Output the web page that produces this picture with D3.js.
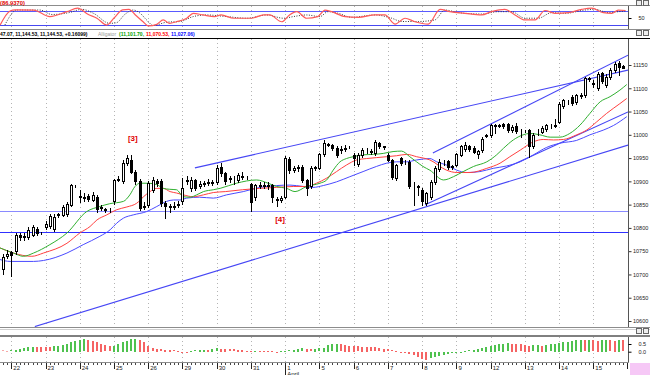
<!DOCTYPE html>
<html>
<head>
<meta charset="utf-8">
<script src="https://cdn.jsdelivr.net/npm/d3@7"></script>
<style>
  body { margin: 0; background: #fff; }
  svg { display: block; font-family: "Liberation Sans", Arial, sans-serif; }
</style>
</head>
<body>
<svg id="chart" width="650" height="375"></svg>
<script>
// hourly candles, 8 per day
const dayLabels = ["22","23","24","25","26","29","30","31","1","5","6","7","8","9","12","13","14","15"];
const firstDayIndex = 2;
const barsPerDay = 8;

const opens = [10712,10740,10748,10750,10785,10780,10780,10785,10797,10790,
10801,10805,10797,10827,10828,10830,10850,10891,10868,10866,
10869,10860,10866,10845,10840,10839,10857,10903,10900,10939,
10946,10921,10900,10845,10850,10882,10900,10900,10853,10847,
10845,10849,10857,10900,10885,10903,10890,10894,10898,10897,
10899,10931,10917,10905,10906,10903,10910,10909,10894,10867,
10890,10891,10893,10892,10862,10860,10867,10949,10925,10929,
10931,10903,10889,10928,10929,10958,10980,10978,10972,10968,
10970,10974,10956,10937,10956,10965,10964,10960,10982,10975,
10957,10946,10907,10950,10941,10942,10892,10890,10882,10853,
10867,10899,10926,10940,10944,10930,10935,10957,10970,10975,
10972,10958,10967,10998,10999,11020,11020,11023,11023,11010,
11018,11008,11008,11010,10975,11005,11007,11012,11020,11020,
11028,11062,11071,11082,11071,11083,11085,11121,11110,11100,
11132,11107,11125,11139,11155,11147];

const highs = [10745,10752,10750,10790,10790,10790,10802,10807,10802,10792,
10815,10830,10830,10833,10850,10855,10895,10893,10882,10875,
10872,10878,10870,10850,10843,10842,10906,10912,10945,10957,
10957,10925,10905,10855,10900,10910,10905,10905,10858,10852,
10855,10858,10908,10912,10910,10906,10900,10900,10905,10902,
10935,10939,10920,10912,10912,10918,10920,10911,10896,10895,
10898,10898,10898,10895,10867,10868,10955,10953,10932,10935,
10935,10906,10932,10934,10962,10989,10983,10980,10975,10976,
10978,10977,10960,10960,10972,10972,10970,10989,10985,10977,
10960,10948,10938,10953,10945,10945,10899,10893,10885,10878,
10902,10932,10949,10945,10946,10936,10962,10978,10985,10979,
10975,10968,10995,11002,11024,11024,11024,11026,11025,11022,
11026,11012,11010,11012,11003,11012,11018,11024,11024,11035,
11070,11078,11075,11085,11088,11090,11124,11124,11118,11135,
11136,11130,11143,11156,11158,11149];

const lows = [10700,10735,10696,10745,10775,10775,10776,10782,10785,10786,
10797,10800,10793,10823,10825,10826,10848,10888,10855,10858,
10858,10857,10835,10838,10835,10835,10852,10900,10897,10935,
10918,10895,10838,10840,10845,10878,10890,10848,10822,10835,
10840,10845,10852,10895,10880,10882,10886,10890,10892,10893,
10895,10912,10895,10898,10895,10898,10905,10906,10836,10860,
10885,10886,10884,10856,10846,10855,10864,10918,10920,10922,
10898,10871,10885,10925,10926,10955,10975,10968,10953,10962,
10965,10971,10936,10934,10953,10960,10958,10957,10972,10970,
10943,10905,10903,10936,10938,10885,10849,10870,10850,10850,
10863,10895,10922,10935,10926,10926,10932,10954,10965,10966,
10960,10950,10963,10995,10996,11004,11016,11014,11006,11005,
11004,10996,11005,10953,10972,11000,11004,11008,11015,11016,
11025,11058,11067,11064,11066,11080,11082,11116,11103,11096,
11112,11103,11120,11135,11128,11143];

const closes = [10738,10745,10742,10785,10780,10782,10796,10803,10789,10789,
10808,10826,10824,10829,10845,10852,10892,10890,10866,10865,
10863,10870,10840,10843,10839,10838,10903,10906,10939,10950,
10921,10900,10843,10848,10896,10903,10897,10853,10848,10845,
10848,10852,10885,10902,10903,10885,10894,10896,10897,10898,
10928,10917,10901,10907,10905,10914,10911,10909,10856,10892,
10892,10893,10890,10867,10860,10864,10950,10924,10928,10931,
10903,10885,10928,10930,10958,10982,10978,10971,10957,10970,
10972,10974,10950,10956,10967,10966,10965,10985,10975,10974,
10946,10910,10935,10939,10942,10889,10893,10888,10857,10875,
10899,10928,10942,10939,10930,10932,10959,10975,10978,10970,
10964,10965,10992,11000,11021,11021,11021,11018,11010,11017,
11008,11009,11008,10975,10999,11007,11014,11021,11019,11022,
11067,11074,11071,11068,11085,11085,11121,11120,11112,11131,
11115,11125,11139,11153,11146,11144.5];

// Alligator lines, read at knots (bar index, price)
const lipsAt = [-0.64,2.5,4.8,7.2,11,15,19.6,22.7,25,28.2,29.7,30.9,32.1,34,36,37.5,39,40.6,42.2,43.8,
45.3,46.9,49.2,50.8,54.6,59.3,62,64,66.3,68.3,71,74.1,75.7,77.2,78.8,80.3,81.9,84.2,86.6,88.9,
91.2,93.2,95.1,96.7,98.2,99.8,103,105.3,107.6,110,113.1,115.4,117,119.3,121.6,123.2,125.5,127.9,130.2,132.5,
134.9,137.2,139.6,141.9,144.2,145.8];
const lipsVal = [10757,10746,10739,10746,10764,10789,10835,10846,10852,10857,10871,10889,10896,10896,10893,10885,10883,10882,10867,10866,
10871,10878,10882,10885,10896,10903,10896,10889,10885,10878,10889,10896,10903,10924,10942,10949,10953,10957,10958,10960,
10964,10965,10953,10942,10932,10924,10903,10910,10921,10932,10942,10957,10971,10989,11000,11003,11000,10995,10995,11003,
11021,11046,11071,11082,11096,11108];

const teethAt = [-0.64,2.5,6.8,9.5,15,18,20.4,22,24.3,26.6,29,31.3,32.9,34.4,36,37.5,39.1,40.6,42.2,44.5,
46.9,49.2,52,56,60,64,68,71,73.3,75.7,78,80.3,82.7,85,87.3,89.7,92,94.4,96.7,99.8,
103.7,106.1,109.2,113.1,116.2,118.5,120.9,124,126.3,128.7,131,134.1,136.4,138.8,141.1,144.2,145.8];
const teethVal = [10757,10746,10739,10746,10767,10789,10803,10817,10828,10839,10845,10853,10867,10878,10885,10885,10878,10875,10871,10867,
10871,10876,10878,10882,10885,10887,10889,10889,10896,10907,10921,10935,10946,10949,10951,10953,10955,10958,10953,10946,
10924,10919,10919,10928,10939,10953,10967,10985,10990,10989,10990,11000,11010,11028,11046,11067,11078];

const jawAt = [-0.64,1.7,7.2,9.5,15,18.8,22.7,25.1,26.6,28.2,30.5,33.6,36,38.3,39.9,41.4,43,46,49.2,52.3,
56.2,60.1,64,67.1,70.2,72.5,74.9,78,81.1,84.2,87.3,89.7,92,94.4,96.7,99.8,101.4,103.7,106.1,108.4,
111.5,114.6,117.7,120.9,124,127.1,130.2,134.1,137.2,140.3,142.7,145.8];
const jawVal = [10732,10728,10728,10730,10746,10764,10782,10796,10810,10821,10828,10835,10846,10857,10860,10860,10864,10866,10864,10871,
10878,10887,10891,10892,10889,10887,10891,10899,10910,10921,10932,10939,10942,10942,10946,10949,10942,10935,10924,10919,
10921,10928,10933,10942,10957,10973,10982,10988,11000,11010,11020,11039];

// stochastic in the top pane, read at knots
const kAt = [-0.6,1.7,2.9,7.2,11,15,17.5,20,22,24.3,26,28,29.5,31,32.8,34,36,37.5,39,40.6,
43,44.5,46.8,49.5,51,54,58,61,62.4,65.2,67,68.7,71,73.6,75.3,76.8,80,83.1,87,89.3,
91.7,94,96.3,99.4,102.2,104.5,108,111.9,114.2,117.3,119.7,122,124.4,126.7,129,132.2,135.3,137.6,140.3,142.3,
143.8,145.5];
const kVal = [20,80,85,84,56,77,92,65,49,20,50,85,87,63,34,16,23,42,27,34,
49,70,63,56,63,49,49,63,63,34,63,77,49,56,84,77,56,53,63,63,
24,49,34,24,87,77,70,63,77,87,63,42,42,82,70,73,87,92,73,70,
84,82];
const dAt = [0.5,3.3,8.7,11.5,15.5,18.5,21.2,25,26.6,28.5,30.5,32,33.6,35.2,38.3,41.4,44.5,47.6,52.3,57,
61.7,65.6,67.9,71,74.1,76,78.4,81.5,87,90.9,93.2,97.1,101,103.3,106.5,111.9,115.8,118.9,122,125.1,
128.3,131.4,136,138.4,141.5,143.8,145.5];
const dVal = [20,84,84,65,73,87,70,27,30,65,84,72,42,18,32,35,56,63,56,49,
63,49,56,63,56,77,70,53,63,49,35,35,42,84,73,67,77,77,49,49,
73,70,84,87,73,77,80];

// oscillator histogram, one bar per candle
const histVal = [0.08,0.07,0.09,0.13,0.17,0.22,0.28,0.32,0.31,0.30,
0.29,0.28,0.35,0.39,0.45,0.50,0.62,0.71,0.78,0.80,
0.77,0.71,0.61,0.50,0.41,0.35,0.39,0.50,0.63,0.71,
0.80,0.84,0.76,0.62,0.36,0.22,0.17,0.15,0.14,0.12,
0.08,0.04,0.01,0.00,0.04,0.09,0.11,0.13,0.12,0.17,
0.22,0.19,0.17,0.16,0.15,0.13,0.11,0.07,0.04,0.06,
0.055,0.05,0.03,0.02,0.01,0.02,0.03,0.09,0.13,0.17,
0.22,0.18,0.16,0.17,0.22,0.26,0.43,0.48,0.52,0.48,
0.43,0.39,0.37,0.35,0.31,0.30,0.29,0.28,0.22,0.17,
0.15,0.09,0.04,-0.01,-0.06,-0.11,-0.17,-0.32,-0.43,-0.50,
-0.39,-0.32,-0.26,-0.17,-0.13,-0.09,-0.04,0.01,0.04,0.09,
0.13,0.17,0.22,0.30,0.39,0.43,0.48,0.52,0.54,0.52,
0.50,0.48,0.43,0.39,0.41,0.43,0.40,0.43,0.48,0.52,
0.56,0.61,0.65,0.69,0.74,0.76,0.74,0.76,0.74,0.72,
0.75,0.76,0.74,0.72,0.75,0.73];

// drawn objects: trend lines [[bar, price], [bar, price]] and horizontal levels
const trendLines = [
    [[7.5, 10588], [146.1, 10978]],
    [[44.9, 10929], [146.1, 11139]],
    [[100.5, 10961], [146.1, 11171]],
    [[98.7, 10850], [146.1, 11049]]
];
const levels = [10836, 10792];
const waveLabels = [{ text: "[3]", at: 30.4, price: 10993 }, { text: "[4]", at: 64.8, price: 10820 }];
const priceTicks = [10600,10650,10700,10750,10800,10850,10900,10950,11000,11050,11100,11150];

const svg = d3.select("#chart");
const axisX = 628;

const x = d3.scaleLinear().domain([0, 145]).range([2.74, 623.3]);
const y = d3.scaleLinear().domain([10600, 11150]).range([321, 65]);
const yOsc = d3.scaleLinear().domain([0, 100]).range([29.7, 6.3]);
const yHist = d3.scaleLinear().domain([0, 0.5]).range([351.7, 344]);

function crisp(v) {
    return Math.round(v) + 0.5;
}

let bars = d3.range(opens.length).map(function (i) {
    return { i: i, o: opens[i], h: highs[i], l: lows[i], c: closes[i], v: histVal[i] };
});
let dayStarts = dayLabels.map(function (d, k) { return firstDayIndex + k * barsPerDay; });

// clip areas for the three panes
let defs = svg.append("defs");
defs.append("clipPath").attr("id", "clipMain").append("rect").attr("x", 0).attr("y", 39).attr("width", axisX).attr("height", 288);
defs.append("clipPath").attr("id", "clipOsc").append("rect").attr("x", 0).attr("y", 6).attr("width", axisX).attr("height", 23);
defs.append("clipPath").attr("id", "clipHist").append("rect").attr("x", 0).attr("y", 337).attr("width", axisX).attr("height", 25);

//pane frames
function hline(yy, color, x2) {
    svg.append("line").attr("x1", 0).attr("x2", x2 || 650).attr("y1", yy).attr("y2", yy)
        .attr("stroke", color).attr("stroke-width", 1);
}
hline(5.5, "#8c8c8c");
hline(29.5, "#8c8c8c");
hline(38.5, "#000");
hline(327.5, "#8c8c8c");
hline(329.5, "#d0d0d0");
hline(336, "#000");
hline(362.5, "#8c8c8c", axisX + 1);

//day grid lines
[[6, 29], [39, 327], [337, 362]].forEach(function (span) {
    svg.append("g").selectAll("line").data(dayStarts).join("line")
        .attr("x1", function (d) { return crisp(x(d)); })
        .attr("x2", function (d) { return crisp(x(d)); })
        .attr("y1", span[0]).attr("y2", span[1])
        .attr("stroke", "#b4b4b4").attr("stroke-dasharray", "1,3");
});

// ---- top oscillator pane
let osc = svg.append("g").attr("clip-path", "url(#clipOsc)");
[80, 20].forEach(function (lv, k) {
    osc.append("line").attr("x1", 0).attr("x2", axisX)
        .attr("y1", crisp(yOsc(lv))).attr("y2", crisp(yOsc(lv)))
        .attr("stroke", k === 0 ? "#5a5aff" : "#4848f0");
});
let oscLine = d3.line().x(function (d) { return x(d[0]); }).y(function (d) { return yOsc(d[1]); }).curve(d3.curveMonotoneX);
osc.append("path").attr("d", oscLine(d3.zip(dAt, dVal)))
    .attr("fill", "none").attr("stroke", "#333").attr("stroke-width", 1).attr("stroke-dasharray", "1,1.5");
osc.append("path").attr("d", oscLine(d3.zip(kAt, kVal)))
    .attr("fill", "none").attr("stroke", "#ff5a5a").attr("stroke-width", 1.2);

// ---- main price pane
let main = svg.append("g").attr("clip-path", "url(#clipMain)");

main.selectAll(".level").data(levels).join("line")
    .attr("class", "level")
    .attr("x1", 0).attr("x2", axisX)
    .attr("y1", function (d) { return crisp(y(d)); })
    .attr("y2", function (d) { return crisp(y(d)); })
    .attr("stroke", function (d, k) { return k === 0 ? "#8a8aff" : "#3030ff"; });

main.selectAll(".trend").data(trendLines).join("line")
    .attr("class", "trend")
    .attr("x1", function (d) { return x(d[0][0]); })
    .attr("y1", function (d) { return y(d[0][1]); })
    .attr("x2", function (d) { return x(d[1][0]); })
    .attr("y2", function (d) { return y(d[1][1]); })
    .attr("stroke", "#4646f5").attr("stroke-width", 1.1);

let priceLine = d3.line().x(function (d) { return x(d[0]); }).y(function (d) { return y(d[1]); }).curve(d3.curveMonotoneX);
[[jawAt, jawVal, "#4a4aff"], [teethAt, teethVal, "#ff4040"], [lipsAt, lipsVal, "#30b030"]].forEach(function (s) {
    main.append("path").attr("d", priceLine(d3.zip(s[0], s[1])))
        .attr("fill", "none").attr("stroke", s[2]).attr("stroke-width", 1);
});

//candles
let candles = main.append("g").selectAll("g").data(bars).join("g");
candles.append("line")
    .attr("x1", function (d) { return crisp(x(d.i)); })
    .attr("x2", function (d) { return crisp(x(d.i)); })
    .attr("y1", function (d) { return Math.round(y(d.h)); })
    .attr("y2", function (d) { return Math.round(y(d.l)) + 1; })
    .attr("stroke", "#000");
candles.append("rect")
    .attr("x", function (d) { return Math.round(x(d.i)) - 0.5; })
    .attr("width", 2)
    .attr("y", function (d) { return crisp(y(Math.max(d.o, d.c))); })
    .attr("height", function (d) { return Math.max(0, Math.round(y(Math.min(d.o, d.c))) - Math.round(y(Math.max(d.o, d.c)))); })
    .attr("fill", function (d) { return d.c >= d.o ? "#fff" : "#000"; })
    .attr("stroke", "#000").attr("stroke-width", 1);

main.selectAll(".wave").data(waveLabels).join("text")
    .attr("class", "wave")
    .attr("x", function (d) { return x(d.at); })
    .attr("y", function (d) { return y(d.price) + 3; })
    .attr("text-anchor", "middle")
    .attr("font-size", 8).attr("font-weight", "bold").attr("fill", "#e00000")
    .text(function (d) { return d.text; });

// ---- histogram pane
let hist = svg.append("g").attr("clip-path", "url(#clipHist)");
hist.selectAll("rect").data(bars).join("rect")
    .attr("x", function (d) { return Math.round(x(d.i)) - 1; })
    .attr("width", 2)
    .attr("y", function (d) { return Math.round(Math.min(yHist(d.v), yHist(0))); })
    .attr("height", function (d) { return Math.max(1, Math.round(Math.abs(yHist(d.v) - yHist(0)))); })
    .attr("fill", function (d) {
        if (d.i < 2) return "#f7a8a8";
        return d.v >= histVal[d.i - 1] ? "#4fc24f" : "#f56464";
    });

// ---- right axes
let yAxis = d3.axisRight(y).tickValues(priceTicks).tickSize(3).tickFormat(d3.format("d"));
let gy = svg.append("g").attr("transform", "translate(" + (axisX + 0.5) + ",0)").call(yAxis);
gy.select(".domain").remove();
gy.selectAll("line").attr("stroke", "#333");
gy.selectAll("text").attr("x", 4.5).attr("font-size", 5.5).attr("fill", "#222");

svg.append("line").attr("x1", axisX + 0.5).attr("x2", axisX + 0.5).attr("y1", 39).attr("y2", 327).attr("stroke", "#555");
svg.append("line").attr("x1", axisX + 0.5).attr("x2", axisX + 0.5).attr("y1", 6).attr("y2", 29).attr("stroke", "#555");
svg.append("line").attr("x1", axisX + 0.5).attr("x2", axisX + 0.5).attr("y1", 337).attr("y2", 362).attr("stroke", "#555");

let oscAxis = d3.axisRight(yOsc).tickValues([50]).tickSize(3);
let go = svg.append("g").attr("transform", "translate(" + (axisX + 0.5) + ",0)").call(oscAxis);
go.select(".domain").remove();
go.selectAll("text").attr("x", 10).attr("font-size", 5.5).attr("fill", "#222");

let histAxis = d3.axisRight(yHist).tickValues([0.5, 0]).tickSize(3).tickFormat(d3.format(".1f"));
let gh = svg.append("g").attr("transform", "translate(" + (axisX + 0.5) + ",0)").call(histAxis);
gh.select(".domain").remove();
gh.selectAll("text").attr("x", 10).attr("font-size", 5.5).attr("fill", "#222");

// ---- time axis
svg.append("g").selectAll("line").data(bars).join("line")
    .attr("x1", function (d) { return crisp(x(d.i)); })
    .attr("x2", function (d) { return crisp(x(d.i)); })
    .attr("y1", 363).attr("y2", 365)
    .attr("stroke", "#444");
svg.append("g").selectAll("line").data(dayStarts).join("line")
    .attr("x1", function (d) { return crisp(x(d)); })
    .attr("x2", function (d) { return crisp(x(d)); })
    .attr("y1", 363).attr("y2", function (d, k) { return dayLabels[k] === "1" ? 375 : 369; })
    .attr("stroke", "#222");
svg.append("g").selectAll("text").data(dayLabels).join("text")
    .attr("x", function (d, k) { return x(dayStarts[k]) + 2; })
    .attr("y", 370)
    .attr("font-size", 6).attr("fill", "#222")
    .text(function (d) { return d; });
svg.append("text").attr("x", x(dayStarts[8]) + 2).attr("y", 375.5)
    .attr("font-size", 6).attr("fill", "#222").text("April");
svg.append("line").attr("x1", crisp(axisX - 1)).attr("x2", crisp(axisX - 1)).attr("y1", 363).attr("y2", 369).attr("stroke", "#222");
svg.append("rect").attr("x", 630).attr("y", 363).attr("width", 20).attr("height", 12).attr("fill", "#f6c8f6");

// ---- header texts
function label(txt, x0, yy, size, color, weight) {
    svg.append("text").attr("x", x0).attr("y", yy).attr("font-size", size)
        .attr("font-weight", weight || "bold").attr("fill", color)
        .text(txt);
}
label("(86.9370)", 0, 4.5, 5.8, "#e00000");
label("47.07, 11,144.53, 11,144.53, +0.16099)", 0, 35.5, 5, "#000");
label("Alligator", 98, 35.5, 5, "#9a9a9a", "normal");
label("(11,101.70,", 119, 35.5, 5, "#00a000");
label("11,070.53,", 146, 35.5, 5, "#ff0000");
label("11,027.06)", 171, 35.5, 5, "#0000ff");

//pane buttons at the right
[0.5, 30.5, 328.5].forEach(function (yy) {
    [636.5, 643.5].forEach(function (xx) {
        svg.append("rect").attr("x", xx).attr("y", yy).attr("width", 5).attr("height", 5)
            .attr("fill", "#eee").attr("stroke", "#666");
    });
});
</script>
</body>
</html>
